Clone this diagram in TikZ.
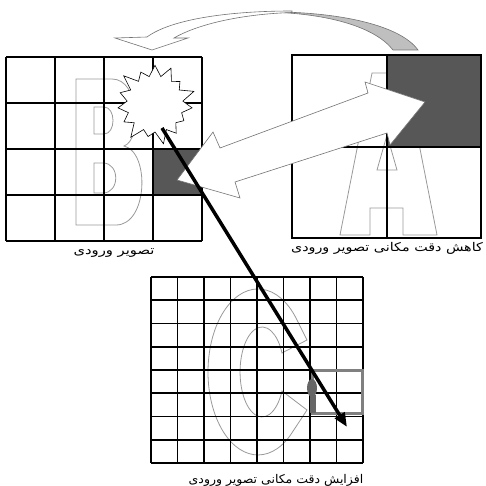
\documentclass[tikz,border=0pt]{standalone}
\usepackage{fontspec}
\newfontfamily\farsi[Script=Arabic]{DejaVu Sans}
\TeXXeTstate=1
\usetikzlibrary{arrows.meta,shapes.symbols}
\tikzset{
  gridln/.style={draw=black, line width=1.6pt},
  glyph/.style={draw=black!40, line width=0.8pt},
  darkcell/.style={fill=black!66},
  band/.style={draw=black!55, line width=0.6pt},
  plabel/.style={font=\farsi\fontsize{12}{14}\selectfont, inner sep=0pt},
  flow/.style={-{Triangle[length=14pt, width=11pt]}, line width=3.5pt},
}

\begin{document}
\begin{tikzpicture}[x=1pt, y=-1pt]
    \useasboundingbox (0,0) rectangle (485,486);
    % curved ribbon arrow on top
    \draw[band, fill=black!25] (280,12) .. controls (340,13) and (400,25) .. (418,50) -- (393,50) .. controls (375,27) and (330,15) .. (280,12.5) -- cycle;
    \draw[band, fill=white] (292,11) .. controls (225,11) and (170,20) .. (147,37) -- (115,38) -- (152,50) -- (188,38) -- (174,38) .. controls (200,23) and (245,14) .. (292,12.5) -- cycle;
    % input image
    \fill[darkcell] (154,149) rectangle (202,195);
    \draw[glyph] (76,79) -- (112,79) .. controls (140,79) and (142,140) .. (124,146) .. controls (150,152) and (148,225) .. (116,225) -- (76,225) -- cycle;
    \draw[glyph] (94,107) -- (104,107) .. controls (116,107) and (116,134) .. (104,134) -- (94,134) -- cycle;
    \draw[glyph] (94,163) -- (103,163) .. controls (120,163) and (120,193) .. (103,193) -- (94,193) -- cycle;
    \foreach \i in {0,...,4} {
      \draw[gridln] (6+49*\i,57) -- (6+49*\i,241);
      \draw[gridln] (6,57+46*\i) -- (202,57+46*\i);
    }
    % reduced image
    \draw[glyph] (340,235) -- (372,73) -- (405,73) -- (437,235) -- (403,235) -- (403,208) -- (370,208) -- (370,235) -- cycle;
    \draw[glyph] (387,135) -- (397,170) -- (377,170) -- cycle;
    \fill[darkcell] (387,55) rectangle (481,147);
    \draw[gridln] (292,55) rectangle (481,238);
    \draw[gridln] (387,55) -- (387,238) (292,147) -- (481,147);
    % enlarged image
    \draw[glyph] (296.3,318.6) arc[start angle=-40, end angle=-310, x radius=50, y radius=83] -- (307,410) -- (282,391) arc[start angle=25, end angle=335, x radius=22, y radius=45] -- (307,340) -- cycle;
    \foreach \i in {0,...,8} {
      \draw[gridln] (151+26.5*\i,277) -- (151+26.5*\i,463);
      \draw[gridln] (151,277+23.25*\i) -- (363,277+23.25*\i);
    }
    \draw[draw=black!50, line width=3pt] (312,370) rectangle (362,413);
    \fill[black!60] (312,388) ellipse [x radius=5, y radius=9];
    \fill[black!60] (310,395) rectangle (316,413);
    % captions
    \node[plabel] (inlbl) at (114,253) {\scalebox{1.23}[1]{\beginR تصویر ورودی\endR}};
    \node[plabel] (lowlbl) at (387,248) {\scalebox{1.19}[1]{\beginR کاهش دقت مکانی تصویر ورودی\endR}};
    \node[plabel] (highlbl) at (276,480) {\scalebox{1.04}[1]{\beginR افزایش دقت مکانی تصویر ورودی\endR}};
    % burst and arrows
    \node[starburst, draw, fill=white, line width=0.6pt, starburst points=15, starburst point height=15pt, minimum width=86pt, minimum height=86pt] (burst) at (155,104) {};
    \draw[band, fill=white] (177,180) -- (213,132) -- (220,148) -- (368,93) -- (365,82) -- (425,102) -- (390,145) -- (387,133) -- (235,182) -- (240,198) -- cycle;
    \coordinate (hit) at (162,128);
    \coordinate (spot) at (347,427);
    \draw[flow] (hit) -- (spot);
  \end{tikzpicture}
\end{document}
